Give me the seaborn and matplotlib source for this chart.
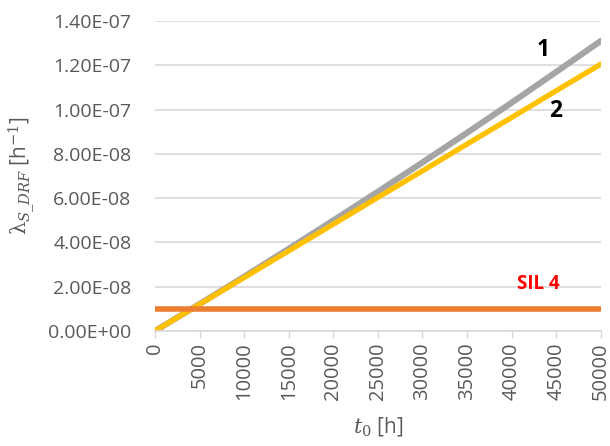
import numpy as np
import pandas as pd
import matplotlib
matplotlib.use("Agg")
import matplotlib.pyplot as plt
import seaborn as sns

# values
t0 = [0, 5000, 10000, 15000, 20000, 25000, 30000, 35000, 40000, 45000, 50000]
lambda_1 = [0, 1.216e-8, 2.45e-8, 3.71e-8, 4.99e-8, 6.29e-8, 7.61e-8, 8.95e-8, 1.031e-7, 1.170e-7, 1.31e-7]
lambda_2 = [0, 1.205e-8, 2.41e-8, 3.615e-8, 4.82e-8, 6.03e-8, 7.23e-8, 8.44e-8, 9.64e-8, 1.085e-7, 1.205e-7]
sil4 = [1e-8] * len(t0)

df = pd.DataFrame({"t0": t0, "l1": lambda_1, "l2": lambda_2, "sil4": sil4})

sns.set_style("white")
plt.rcParams["font.family"] = ["Open Sans", "DejaVu Sans"]
plt.rcParams["mathtext.fontset"] = "dejavuserif"

fig = plt.figure(figsize=(6.1, 4.46), dpi=100)
ax = fig.add_axes([0.254, 0.258, 0.731, 0.695])

sns.lineplot(data=df, x="t0", y="l1", ax=ax, color="#A5A5A5", lw=4.4)
sns.lineplot(data=df, x="t0", y="l2", ax=ax, color="#FFC000", lw=3.8)
sns.lineplot(data=df, x="t0", y="sil4", ax=ax, color="#ED7D31", lw=4)

ax.set_xlim(0, 50000)
ax.set_ylim(0, 1.4e-7)
ax.set_xticks(np.arange(0, 50001, 5000))
ax.set_yticks(np.arange(0, 1.41e-7, 2e-8))
ax.set_yticklabels([f"{v:.2E}" for v in np.arange(0, 1.41e-7, 2e-8)])
ax.tick_params(axis="x", rotation=90, colors="#D9D9D9", labelcolor="#595959",
               labelsize=14.5, length=5, width=1, direction="out", bottom=True, pad=3)
ax.tick_params(axis="y", labelcolor="#595959", labelsize=14, length=0, pad=17)
ax.yaxis.grid(True, color="#D9D9D9", lw=1.2)
ax.set_axisbelow(True)
for s in ["left", "right", "top"]:
    ax.spines[s].set_visible(False)
ax.spines["bottom"].set_color("#D9D9D9")
ax.spines["bottom"].set_linewidth(1.2)

ax.set_xlabel(r"$t_0$ [h]", fontsize=15, color="#595959", labelpad=11)
ax.set_ylabel(r"$\mathrm{\lambda}_{S\_DRF}$ [h$^{\mathrm{-1}}$]", fontsize=15, color="#595959", labelpad=8)

ax.text(0.870, 0.906, "1", transform=ax.transAxes, fontsize=16.5, fontweight="bold", color="black", ha="center", va="center")
ax.text(0.899, 0.710, "2", transform=ax.transAxes, fontsize=16.5, fontweight="bold", color="black", ha="center", va="center")
ax.text(0.859, 0.153, "SIL 4", transform=ax.transAxes, fontsize=13.5, fontweight="bold", color="#FF0000", ha="center", va="center")

fig.savefig("out.png", dpi=100)
